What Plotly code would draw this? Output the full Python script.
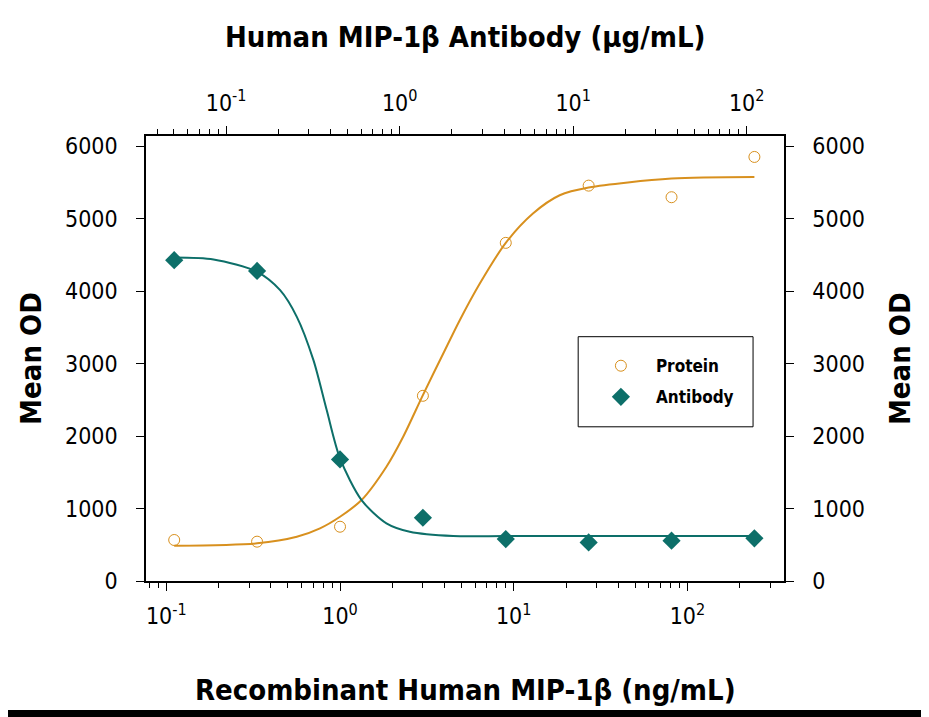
import plotly.graph_objects as go

# concentrations (ng/mL) on the bottom axis
conc = [0.111, 0.333, 1.0, 3.0, 9.0, 27.0, 81.0, 243.0]
protein_od = [566, 543, 749, 2556, 4667, 5457, 5297, 5853]
antibody_od = [4428, 4280, 1678, 873, 579, 533, 556, 589]

# fitted curves
protein_fit_x = [0.111, 0.333, 0.564, 0.767, 1.0, 1.33, 1.85, 2.31, 3.0,
                 3.93, 4.89, 6.38, 9.0, 12.9, 18.4, 27.0, 81.0, 243.0]
protein_fit_y = [487, 520, 611, 727, 887, 1117, 1577, 1991, 2566,
                 3140, 3600, 4106, 4667, 5072, 5324, 5430, 5554, 5577]
antibody_fit_x = [0.111, 0.187, 0.333, 0.452, 0.564, 0.703, 0.838, 1.0, 1.33,
                  1.85, 2.52, 4.48, 9.0, 27.0, 81.0, 243.0]
antibody_fit_y = [4464, 4437, 4267, 4014, 3646, 3048, 2359, 1692, 1117,
                  796, 680, 621, 621, 621, 621, 621]

major_vals = [0.1, 1, 10, 100]
major_text = ["10<sup>-1</sup>", "10<sup>0</sup>", "10<sup>1</sup>", "10<sup>2</sup>"]
minor_vals = [d * 10 ** e for e in range(-2, 4) for d in range(2, 10)]

orange = "#D8901E"
teal = "#0D6F69"
font = "DejaVu Sans Condensed, Liberation Sans Narrow, sans-serif"

fig = go.Figure()
fig.add_trace(go.Scatter(x=protein_fit_x, y=protein_fit_y, mode="lines",
                         line=dict(color=orange, width=2, shape="spline", smoothing=0.8),
                         showlegend=False, hoverinfo="skip"))
fig.add_trace(go.Scatter(x=antibody_fit_x, y=antibody_fit_y, mode="lines",
                         line=dict(color=teal, width=2, shape="spline", smoothing=0.8),
                         showlegend=False, hoverinfo="skip"))
fig.add_trace(go.Scatter(x=conc, y=protein_od, mode="markers", name="Protein",
                         legendgroup="p",
                         marker=dict(symbol="circle-open", size=11, color=orange,
                                     line=dict(width=1))))
fig.add_trace(go.Scatter(x=conc, y=antibody_od, mode="markers", name="Antibody",
                         legendgroup="a",
                         marker=dict(symbol="diamond", size=14, color=teal)))
# empty trace so the top and right axes get drawn
fig.add_trace(go.Scatter(x=[], y=[], xaxis="x2", yaxis="y2", showlegend=False))

axis_style = dict(showline=True, linecolor="black", linewidth=1.5, ticks="outside",
                  ticklen=8, tickwidth=1.2, tickcolor="black", showgrid=False,
                  zeroline=False, tickfont=dict(family=font, size=23, color="black"))

log_axis = dict(axis_style, type="log", tickmode="array", tickvals=major_vals,
                ticktext=major_text,
                minor=dict(tickmode="array", tickvals=minor_vals, ticks="outside",
                           ticklen=5, tickcolor="black", tickwidth=1))

fig.update_layout(
    width=921, height=709,
    margin=dict(l=137.7, r=144.7, t=127.7, b=136),
    plot_bgcolor="white", paper_bgcolor="white",
    xaxis=dict(log_axis, range=[-1.117, 2.556], ticklabelstandoff=6),
    xaxis2=dict(log_axis, range=[-1.462, 2.215], overlaying="x", side="top",
                anchor="y", ticklabelstandoff=6),
    yaxis=dict(axis_style, range=[0, 6142], tickmode="linear", tick0=0, dtick=1000,
               ticklabelstandoff=14),
    yaxis2=dict(axis_style, range=[0, 6142], tickmode="linear", tick0=0, dtick=1000,
                overlaying="y", side="right", anchor="x", ticklabelstandoff=14),
    legend=dict(x=0.6895, y=0.5232, xanchor="left", yanchor="top",
                borderwidth=0, bgcolor="rgba(0,0,0,0)",
                font=dict(family=font, size=17, color="black", weight="bold"),
                traceorder="grouped", tracegroupgap=6, itemwidth=60),
    showlegend=True,
)

# legend frame
fig.add_shape(type="rect", xref="paper", yref="paper", x0=0.6774, x1=0.9515,
              y0=0.3465, y1=0.549, fillcolor="white", line=dict(color="black", width=1),
              layer="below")

title_font = dict(family=font, size=29, color="black", weight="bold")
fig.add_annotation(text="Human MIP-1\u03b2 Antibody (\u03bcg/mL)", xref="paper", yref="paper",
                   x=0.5, y=1.2216, xanchor="center", yanchor="middle",
                   showarrow=False, font=title_font)
fig.add_annotation(text="Recombinant Human MIP-1\u03b2 (ng/mL)", xref="paper", yref="paper",
                   x=0.5, y=-0.2448, xanchor="center", yanchor="middle",
                   showarrow=False, font=title_font)
fig.add_annotation(text="Mean OD", xref="paper", yref="paper", x=-0.1812, y=0.5,
                   xanchor="center", yanchor="middle",
                   textangle=-90, showarrow=False, font=title_font)
fig.add_annotation(text="Mean OD", xref="paper", yref="paper", x=1.1812, y=0.5,
                   xanchor="center", yanchor="middle",
                   textangle=-90, showarrow=False, font=title_font)

# black band along the bottom edge
fig.add_shape(type="rect", xref="paper", yref="paper", x0=-0.3, x1=1.3,
              y0=-0.31, y1=-0.2897, fillcolor="black", line_width=0, layer="above")

fig.write_html("out.html")
